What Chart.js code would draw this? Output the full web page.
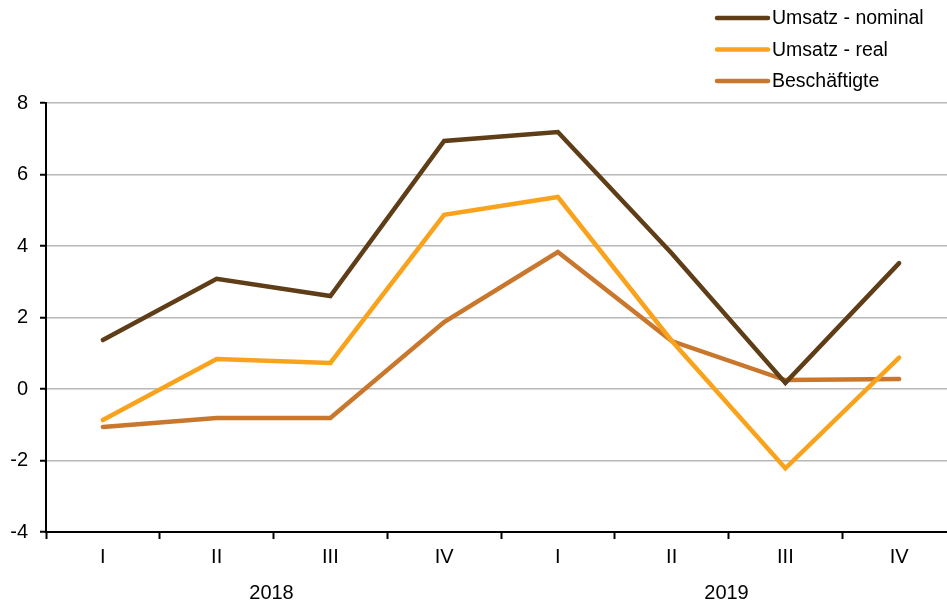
<!DOCTYPE html>
<html>
<head>
<meta charset="utf-8">
<script src="https://cdn.jsdelivr.net/npm/chart.js@4"></script>
<style>
  html, body { margin: 0; padding: 0; background: #fff; overflow: hidden; }
  #wrap { width: 956px; height: 606px; }
</style>
</head>
<body>
<div id="wrap"><canvas id="chart" width="956" height="606"></canvas></div>
<script>
// ----------------------------
// Data
// ----------------------------
const quarters = ['I', 'II', 'III', 'IV', 'I', 'II', 'III', 'IV'];
const years = ['2018', '2019'];
const umsatzNominal = [1.37, 3.08, 2.6, 6.94, 7.19, 3.8, 0.17, 3.52];
const umsatzReal = [-0.87, 0.84, 0.73, 4.87, 5.37, 1.35, -2.22, 0.88];
const beschaeftigte = [-1.06, -0.81, -0.81, 1.87, 3.83, 1.34, 0.25, 0.28];
const seriesNames = ['Umsatz - nominal', 'Umsatz - real', 'Beschäftigte'];
const seriesColors = ['#5e3d17', '#f9a31d', '#c9772d'];

const FONT = 'Arial, "Liberation Sans", sans-serif';

// legend drawn top right, stacked vertically
const legendPlugin = {
  id: 'stackedLegend',
  afterDraw(chart) {
    const ctx = chart.ctx;
    ctx.save();
    ctx.font = '19.5px ' + FONT;
    ctx.textBaseline = 'middle';
    ctx.fillStyle = '#000';
    chart.data.datasets.forEach((ds, i) => {
      const y = 18 + i * 31.5;
      ctx.strokeStyle = ds.borderColor;
      ctx.lineWidth = 4.5;
      ctx.lineCap = 'round';
      ctx.beginPath();
      ctx.moveTo(717, y);
      ctx.lineTo(768, y);
      ctx.stroke();
      ctx.fillText(ds.label, 772, y + 1);
    });
    ctx.restore();
  }
};

// year labels centred under each group of four quarters
const yearPlugin = {
  id: 'yearLabels',
  afterDraw(chart) {
    const x = chart.scales.x;
    const ctx = chart.ctx;
    ctx.save();
    ctx.font = '20px ' + FONT;
    ctx.fillStyle = '#000';
    ctx.textAlign = 'center';
    ctx.textBaseline = 'middle';
    years.forEach((yr, g) => {
      const a = x.getPixelForTick(g * 4 + 1);
      const b = x.getPixelForTick(g * 4 + 2);
      ctx.fillText(yr, (a + b) / 2 - 2, 593);
    });
    ctx.restore();
  }
};

const datasets = [umsatzNominal, umsatzReal, beschaeftigte].map((values, i) => ({
  label: seriesNames[i],
  data: values,
  borderColor: seriesColors[i],
  backgroundColor: seriesColors[i],
  borderWidth: 4.5,
  pointRadius: 0,
  tension: 0,
  borderCapStyle: 'round',
  borderJoinStyle: 'miter'
}));

new Chart(document.getElementById('chart').getContext('2d'), {
  type: 'line',
  data: { labels: quarters, datasets },
  options: {
    responsive: false,
    animation: false,
    layout: { padding: { top: 103, right: 0, left: 0, bottom: 0 } },
    plugins: {
      legend: { display: false },
      tooltip: { enabled: false }
    },
    scales: {
      x: {
        offset: true,
        afterFit: (s) => { s.height = 74; },
        grid: {
          offset: true,
          drawOnChartArea: false,
          tickLength: 7,
          tickColor: '#000',
          tickWidth: 2
        },
        border: { color: '#000', width: 2 },
        ticks: {
          color: '#000',
          font: { family: FONT, size: 20 },
          padding: 6,
          maxRotation: 0
        }
      },
      y: {
        min: -4,
        max: 8,
        afterFit: (s) => { s.width = 46; },
        grid: {
          color: '#b8b8b8',
          lineWidth: 1.5,
          tickLength: 6,
          tickColor: '#000',
          tickWidth: 2
        },
        border: { color: '#000', width: 2 },
        ticks: {
          stepSize: 2,
          color: '#000',
          font: { family: FONT, size: 20 },
          padding: 12
        }
      }
    }
  },
  plugins: [legendPlugin, yearPlugin]
});
</script>
</body>
</html>
